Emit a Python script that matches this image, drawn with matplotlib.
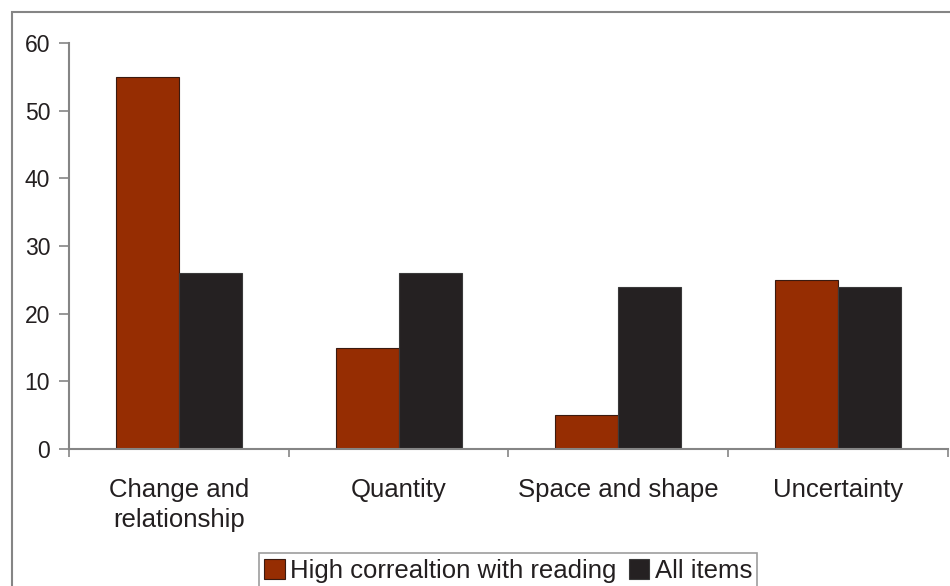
import matplotlib
matplotlib.use("Agg")
import matplotlib.pyplot as plt
from matplotlib.patches import Rectangle
import numpy as np

plt.rcParams['font.family'] = ['Liberation Sans', 'DejaVu Sans']

# Share of items per content area
categories = ['Change and\nrelationship', 'Quantity', 'Space and shape', 'Uncertainty']
high_corr = [55, 15, 5, 25]
all_items = [26, 26, 24, 24]
series_names = ['High correaltion with reading', 'All items']
yticks = [0, 10, 20, 30, 40, 50, 60]

red = '#962d02'
dark = '#252122'
axis_grey = '#858585'
fs = 18.5

fig = plt.figure(figsize=(9.5, 5.86), dpi=100)

# frame around the whole chart area (runs off the right and bottom edges)
fig.patches.append(Rectangle((12 / 950, -0.05), 1.0, 1 - 12 / 586 + 0.05,
                             transform=fig.transFigure, fill=False,
                             edgecolor=axis_grey, linewidth=1.5))

ax = fig.add_axes([69 / 950, 137 / 586, (948 - 69) / 950, (449 - 43) / 586])

x = np.arange(len(categories))
w = 0.287
ax.bar(x - w / 2, high_corr, w, color=red, edgecolor='#3a1a10', linewidth=0.8,
       label=series_names[0])
ax.bar(x + w / 2, all_items, w, color=dark, edgecolor='#3a3a3a', linewidth=0.8,
       label=series_names[1])

ax.set_xlim(-0.5, len(categories) - 0.5)
ax.set_ylim(0, 60)
ax.set_yticks(yticks)
ax.set_xticks(x)
ax.set_xticklabels(categories, fontsize=fs, color='#231f20', linespacing=1.3)
ax.set_xticks(np.arange(len(categories) + 1) - 0.5, minor=True)
ax.tick_params(axis='x', which='major', length=0, pad=21)
ax.tick_params(axis='x', which='minor', length=6, width=1.2, color=axis_grey)
ax.tick_params(axis='y', length=7, width=1.2, color=axis_grey, labelsize=16.5,
               labelcolor='#231f20', pad=6.5)

for side in ['top', 'right']:
    ax.spines[side].set_visible(False)
for side in ['left', 'bottom']:
    ax.spines[side].set_color(axis_grey)
    ax.spines[side].set_linewidth(1.5)

leg = fig.legend(loc='lower center', bbox_to_anchor=(508 / 950, -0.003), ncol=2,
                 fontsize=fs, frameon=True, fancybox=False, edgecolor=axis_grey,
                 handlelength=0.8, handleheight=0.8, handletextpad=0.2,
                 columnspacing=0.5, borderpad=0.2, borderaxespad=0)
leg.get_frame().set_linewidth(1.2)
for t in leg.get_texts():
    t.set_color('#231f20')

fig.savefig('out.png', dpi=100)
